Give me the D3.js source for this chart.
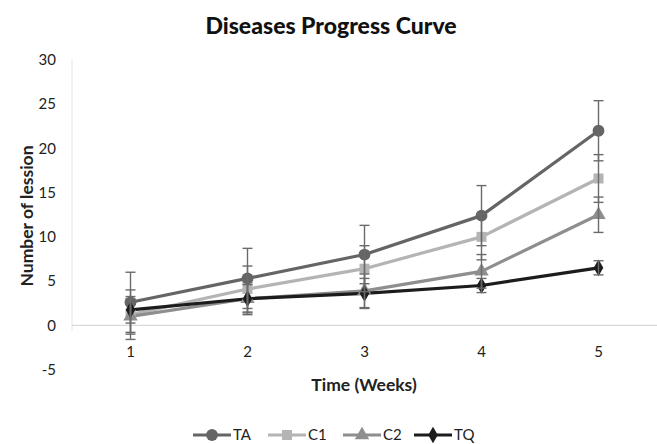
<!DOCTYPE html>
<html><head><meta charset="utf-8">
<script src="https://cdn.jsdelivr.net/npm/d3@7"></script>
<style>body{margin:0;background:#fff;}text{font-family:Lato,"Open Sans",sans-serif;}</style>
</head><body>
<svg id="c" width="657" height="444"></svg>
<script>
const weeks = [1, 2, 3, 4, 5];
const seriesNames = ["TA", "C1", "C2", "TQ"];
const TA = [2.6, 5.3, 8.0, 12.4, 22.0];
const C1 = [1.2, 4.1, 6.4, 10.0, 16.6];
const C2 = [1.0, 3.0, 3.9, 6.1, 12.5];
const TQ = [1.75, 3.0, 3.6, 4.5, 6.5];
const TA_err = [3.4, 3.4, 3.3, 3.4, 3.4];
const C1_err = [2.8, 2.6, 2.6, 2.6, 2.7];
const C2_err = [2.0, 1.8, 1.9, 1.9, 2.0];
const TQ_err = [1.5, 1.6, 1.7, 0.8, 0.8];
const yTicks = [-5, 0, 5, 10, 15, 20, 25, 30];

const series = [
  {name: "TA", values: TA, err: TA_err, color: "#656565", shape: d3.symbolCircle, size: 110},
  {name: "C1", values: C1, err: C1_err, color: "#b4b4b4", shape: d3.symbolSquare, size: 100},
  {name: "C2", values: C2, err: C2_err, color: "#8e8e8e", shape: d3.symbolTriangle, size: 90},
  {name: "TQ", values: TQ, err: TQ_err, color: "#1c1c1c", shape: d3.symbolDiamond, size: 80}
];

const svg = d3.select("#c");
const x = d3.scaleBand().domain(weeks).range([72, 657]);
const y = d3.scaleLinear().domain([-5, 30]).range([369.5, 60]);

// title
svg.append("text").attr("x", 331).attr("y", 26).attr("dy", "0.35em").attr("text-anchor", "middle")
  .attr("font-size", 23).attr("font-weight", 900).attr("fill", "#111").text("Diseases Progress Curve");

// left faint axis line
svg.append("line").attr("x1", 72).attr("x2", 72).attr("y1", y(30)).attr("y2", y(-0.6))
  .attr("stroke", "#e4e4e4").attr("stroke-width", 1);
// zero line
svg.append("line").attr("x1", 72).attr("x2", 657).attr("y1", y(0)).attr("y2", y(0))
  .attr("stroke", "#d9d9d9").attr("stroke-width", 1.3);

// y tick labels
svg.append("g").selectAll("text").data(yTicks).join("text")
  .attr("x", 56).attr("y", d => y(d)).attr("dy", "0.35em").attr("text-anchor", "end")
  .attr("font-size", 15).attr("fill", "#222").text(d => d);

// x tick labels
svg.append("g").selectAll("text").data(weeks).join("text")
  .attr("x", d => x(d) + x.bandwidth() / 2).attr("y", 352).attr("dy", "0.35em").attr("text-anchor", "middle")
  .attr("font-size", 15).attr("fill", "#222").text(d => d);

// axis titles
svg.append("text").attr("transform", `translate(27,216) rotate(-90)`).attr("dy", "0.35em").attr("text-anchor", "middle")
  .attr("font-size", 17.5).attr("font-weight", "bold").attr("fill", "#222").text("Number of lession");
svg.append("text").attr("x", 364).attr("y", 385).attr("dy", "0.35em").attr("text-anchor", "middle")
  .attr("font-size", 17.5).attr("font-weight", "bold").attr("fill", "#222").text("Time (Weeks)");

const cx = d => x(d) + x.bandwidth() / 2;
const line = d3.line().x((d, i) => cx(weeks[i])).y(d => y(d));

// lines
series.forEach(s => {
  svg.append("path").attr("d", line(s.values)).attr("fill", "none")
    .attr("stroke", s.color).attr("stroke-width", 3.2).attr("stroke-linejoin", "round");
});
// markers
series.forEach(s => {
  svg.append("g").selectAll("path").data(s.values).join("path")
    .attr("transform", (d, i) => `translate(${cx(weeks[i])},${y(d)})`)
    .attr("d", d3.symbol().type(s.shape).size(s.size)).attr("fill", s.color);
});
// error bars
series.forEach(s => {
  const g = svg.append("g").attr("stroke", "#6a6a6a").attr("stroke-width", 1.4);
  s.values.forEach((v, i) => {
    const px = cx(weeks[i]);
    const e = s.err[i];
    g.append("line").attr("x1", px).attr("x2", px).attr("y1", y(v + e)).attr("y2", y(v - e));
    g.append("line").attr("x1", px - 5).attr("x2", px + 5).attr("y1", y(v + e)).attr("y2", y(v + e));
    g.append("line").attr("x1", px - 5).attr("x2", px + 5).attr("y1", y(v - e)).attr("y2", y(v - e));
  });
});

// legend
const legX = [193, 268, 343, 414];
const leg = svg.append("g");
series.forEach((s, i) => {
  const lx = legX[i], ly = 435;
  leg.append("line").attr("x1", lx).attr("x2", lx + 38).attr("y1", ly).attr("y2", ly)
    .attr("stroke", s.color).attr("stroke-width", 3.2);
  leg.append("path").attr("transform", `translate(${lx + 19},${ly})`)
    .attr("d", d3.symbol().type(s.shape).size(s.size)).attr("fill", s.color);
  leg.append("text").attr("x", lx + 40).attr("y", ly).attr("dy", "0.35em")
    .attr("font-size", 15).attr("fill", "#222").text(s.name);
});
</script>
</body></html>
